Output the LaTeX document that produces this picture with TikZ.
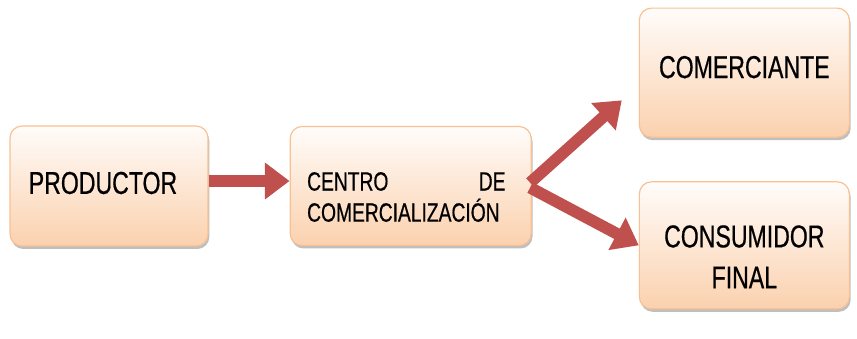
\documentclass[tikz,border=0pt]{standalone}
\usepackage{fontspec}
\newfontfamily\boxfont[FakeStretch=0.73, FakeBold=0.5]{Liberation Sans}
\usepackage{tikz}
\usetikzlibrary{arrows.meta, shadows}
\usetikzlibrary{positioning}
\definecolor{boxLine}{HTML}{F8C193}
\definecolor{boxTop}{HTML}{FFFCFA}
\definecolor{boxBottom}{HTML}{FBD1AE}
\definecolor{arrowRed}{HTML}{C0504D}
\tikzstyle{stageBox} = [rectangle, rounded corners=0.36cm, draw=boxLine, line width=1pt, top color=boxTop, bottom color=boxBottom, drop shadow={shadow xshift=0.04cm, shadow yshift=-0.09cm, fill=black, opacity=0.25}]
\tikzstyle{stageText} = [font=\boxfont\fontsize{27pt}{35pt}\selectfont, align=center, inner sep=0pt]
\tikzstyle{flowArrow} = [draw=arrowRed, line width=10pt, -{Triangle[width=30pt,length=21pt]}]

\begin{document}
\begin{tikzpicture}
                        \useasboundingbox (0,0) rectangle (25.71,-10.17);
                        \node (productor) [stageBox, minimum width=5.94cm, minimum height=3.6cm] at (3.27,-5.58) {};
                        \node (centro) [stageBox, minimum width=7.23cm, minimum height=3.57cm, right=2.43cm of productor] {};
                        \node (comerciante) [stageBox, minimum width=6.3cm, minimum height=3.87cm, right=3.21cm of centro, yshift=3.4cm] {};
                        \node (consumidor) [stageBox, minimum width=6.3cm, minimum height=3.81cm, right=3.21cm of centro, yshift=-1.78cm] {};
                        \node (productorText) [stageText] at ([xshift=-0.18cm,yshift=0.09cm]productor.center) {PRODUCTOR};
                        \node (centroText) [stageText, font=\boxfont\fontsize{22.5pt}{26.5pt}\selectfont, text width=5.95cm, align=left] at ([xshift=-0.13cm,yshift=-0.33cm]centro.center) {\hbox to 5.95cm{CENTRO\hfill DE}\\COMERCIALIZACIÓN};
                        \node (comercianteText) [stageText] at ([yshift=0.165cm]comerciante.center) {COMERCIANTE};
                        \node (consumidorText) [stageText] at ([yshift=-0.345cm]consumidor.center) {CONSUMIDOR\\FINAL};
                        \draw [flowArrow] ([yshift=0.15cm]productor.east) -- ([yshift=0.15cm]centro.west);
                        \draw [flowArrow] ([xshift=-0.05cm,yshift=0.1cm]centro.east) -- ([xshift=-0.51cm,yshift=-0.83cm]comerciante.west);
                        \draw [flowArrow] ([xshift=-0.05cm,yshift=-0.05cm]centro.east) -- (consumidor.west);
                    \end{tikzpicture}
\end{document}
